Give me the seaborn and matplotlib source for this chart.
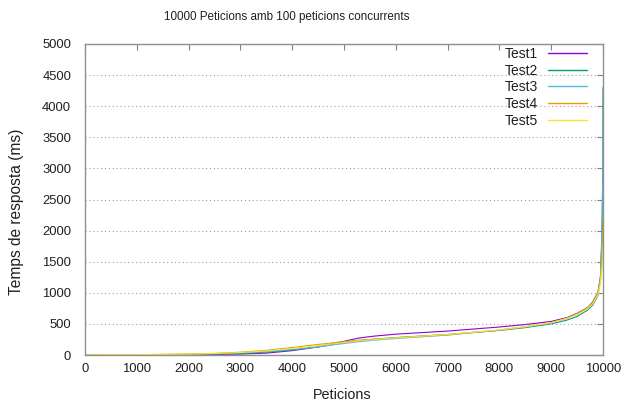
import matplotlib
matplotlib.use("Agg")
import matplotlib.pyplot as plt
import seaborn as sns
import pandas as pd

x_points = [0, 1000, 2000, 2500, 3000, 3500, 4000, 4500, 5000, 5300, 5600, 6000,
            7000, 8000, 8500, 9000, 9300, 9500, 9700, 9800, 9900, 9950, 9980, 9995, 10000]

test1 = [2, 3, 5, 10, 15, 30, 70, 130, 220, 275, 305, 335, 385, 450, 490, 540, 600,
         670, 760, 850, 1000, 1250, 1800, 2400, 2850]
test2 = [2, 3, 8, 15, 25, 45, 80, 130, 200, 235, 255, 280, 330, 395, 440, 500, 560,
         620, 720, 800, 950, 1200, 1900, 3000, 4300]
test3 = [2, 4, 10, 20, 35, 55, 90, 130, 185, 215, 240, 265, 320, 400, 450, 510, 590,
         660, 750, 840, 980, 1250, 2000, 2800, 3600]
test4 = [3, 5, 15, 25, 45, 75, 120, 170, 215, 240, 255, 275, 325, 400, 455, 520, 590,
         660, 760, 840, 990, 1200, 1600, 2000, 2250]
test5 = [3, 5, 14, 25, 40, 65, 105, 150, 200, 230, 250, 275, 330, 405, 455, 520, 585,
         650, 740, 820, 960, 1150, 1400, 1650, 1750]

series_names = ["Test1", "Test2", "Test3", "Test4", "Test5"]
series_values = [test1, test2, test3, test4, test5]
colors = ["#9400d3", "#009e73", "#56b4e9", "#e69f00", "#f0e442"]

rows = []
for name, vals in zip(series_names, series_values):
    for xv, yv in zip(x_points, vals):
        rows.append({"Peticions": xv, "Temps": yv, "Test": name})
df = pd.DataFrame(rows)

sns.set_style("white")
plt.rcParams['font.family'] = ['Liberation Sans', 'DejaVu Sans']

W, H = 624, 401
fig = plt.figure(figsize=(W/100, H/100), dpi=100)
ax = fig.add_axes([85/W, (H-355)/H, (603-85)/W, (355-44)/H])

sns.lineplot(data=df, x="Peticions", y="Temps", hue="Test", palette=colors,
             linewidth=0.8, ax=ax, legend=True)

ax.set_xlim(0, 10000)
ax.set_ylim(0, 5000)
ax.set_xticks(range(0, 10001, 1000))
ax.set_yticks(range(0, 5001, 500))
ax.tick_params(direction="in", top=True, right=True, length=4, width=0.8,
               colors="#808080", labelcolor="#202020", labelsize=9.4)
ax.tick_params(axis="y", pad=10)
ax.tick_params(axis="x", pad=6)
for sp in ax.spines.values():
    sp.set_color("#909090")
    sp.set_linewidth(1.0)
ax.yaxis.grid(True, linestyle=(0, (1, 2.5)), color="#a0a0a0", linewidth=0.8)
ax.xaxis.grid(False)
ax.set_axisbelow(True)

ax.set_xlabel("")
ax.set_ylabel("")
fig.text(342/W, 1 - 395/H, "Peticions", fontsize=10.4, ha="center", va="center", color="#202020")
fig.text(17/W, 1 - 212/H, "Temps de resposta (ms)", fontsize=11.2, rotation=90,
         ha="center", va="center", color="#202020")
fig.text(287/W, 1 - 17/H, "10000 Peticions amb 100 peticions concurrents", fontsize=8.4,
         ha="center", va="center", color="#202020")

handles, labels = ax.get_legend_handles_labels()
for h in handles:
    h.set_linewidth(1.0)
leg = ax.legend(handles, labels, loc="upper right", frameon=False, markerfirst=False,
                fontsize=10, handlelength=2.8, handletextpad=0.72, labelspacing=0.19,
                bbox_to_anchor=((587 - 85)/518, (355 - 47)/311), bbox_transform=ax.transAxes,
                borderaxespad=0, borderpad=0)
for t in leg.get_texts():
    t.set_color("#202020")

fig.savefig("out.png", dpi=100)
